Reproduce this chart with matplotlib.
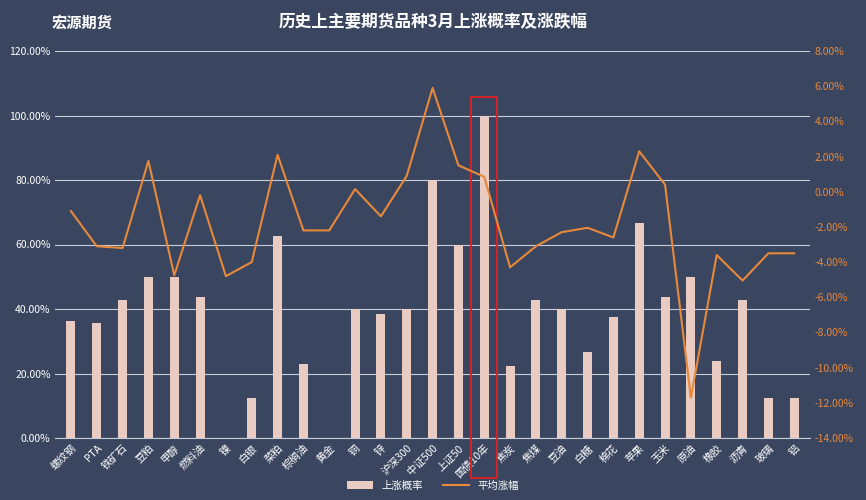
import matplotlib
matplotlib.use("Agg")
import matplotlib.pyplot as plt
from matplotlib.patches import Rectangle
from matplotlib.ticker import FuncFormatter
import numpy as np

plt.rcParams['font.family'] = ['Noto Sans CJK SC', 'DejaVu Sans']

categories = ["螺纹钢","PTA","铁矿石","豆粕","甲醇","燃料油","镍","白银","菜粕","棕榈油","黄金","铜","锌","沪深300","中证500","上证50","国债10年","焦炭","焦煤","豆油","白糖","棉花","苹果","玉米","原油","橡胶","沥青","玻璃","铝"]
up_prob = [36.4,35.7,42.9,50,50,43.8,0,12.5,62.5,23.1,0,40,38.5,40,80,60,100,22.2,42.9,40,26.7,37.5,66.7,43.8,50,23.8,42.9,12.5,12.5]
avg_change = [-1.1,-3.1,-3.2,1.75,-4.75,-0.2,-4.8,-4.0,2.1,-2.2,-2.2,0.15,-1.4,0.9,5.9,1.5,0.85,-4.3,-3.1,-2.3,-2.05,-2.6,2.3,0.4,-11.7,-3.6,-5.05,-3.5,-3.5]

bg = "#3a4660"
fig = plt.figure(figsize=(8.66,5), dpi=100, facecolor=bg)
ax = fig.add_axes([0.064,0.124,0.871,0.774], facecolor=bg)
x = np.arange(len(categories))
ax.bar(x, up_prob, width=0.35, color="#e9cbc1", zorder=2, label="上涨概率")
ax.set_ylim(0,120)
ax.set_yticks(range(0,121,20))
ax.yaxis.set_major_formatter(FuncFormatter(lambda v,p: f"{v:.2f}%"))
ax.grid(axis='y', color="#c8ccd4", lw=0.8, zorder=0)
ax.set_xlim(-0.6, len(categories)-0.4)
ax.set_xticks(x)
ax.set_xticklabels(categories, rotation=45, ha='right', rotation_mode='anchor', fontsize=7.5, color='white')
ax.tick_params(axis='y', colors='white', labelsize=7.5, length=0)
ax.tick_params(axis='x', length=0)
for s in ax.spines.values(): s.set_visible(False)
ax.spines['bottom'].set_visible(True); ax.spines['bottom'].set_color("#c8ccd4")

ax2 = ax.twinx()
ax2.plot(x, avg_change, color="#e8883a", lw=1.5, label="平均涨幅", zorder=3)
ax2.set_ylim(-14,8)
ax2.set_yticks(range(-14,9,2))
ax2.yaxis.set_major_formatter(FuncFormatter(lambda v,p: f"{v:.2f}%"))
ax2.tick_params(axis='y', colors='#e8883a', labelsize=7.5, length=0)
for s in ax2.spines.values(): s.set_visible(False)

i = categories.index("国债10年")
trans = ax.get_xaxis_transform()
ax.add_patch(Rectangle((i-0.5, -0.103), 1.0, 0.984, transform=trans, fill=False, ec="#e02020", lw=1.3, clip_on=False, zorder=5))

h1,l1 = ax.get_legend_handles_labels(); h2,l2 = ax2.get_legend_handles_labels()
leg = fig.legend(h1+h2, l1+l2, loc='lower center', bbox_to_anchor=(0.5,0.0), ncol=2, frameon=False, fontsize=7.5, labelcolor='white', handlelength=2.5)

fig.text(0.5, 0.955, "历史上主要期货品种3月上涨概率及涨跌幅", ha='center', va='center', color='white', fontsize=12, fontweight='bold')
fig.text(0.06, 0.955, "宏源期货", ha='left', va='center', color='white', fontsize=11, fontweight='bold')
fig.savefig("out.png", dpi=100, facecolor=bg)
